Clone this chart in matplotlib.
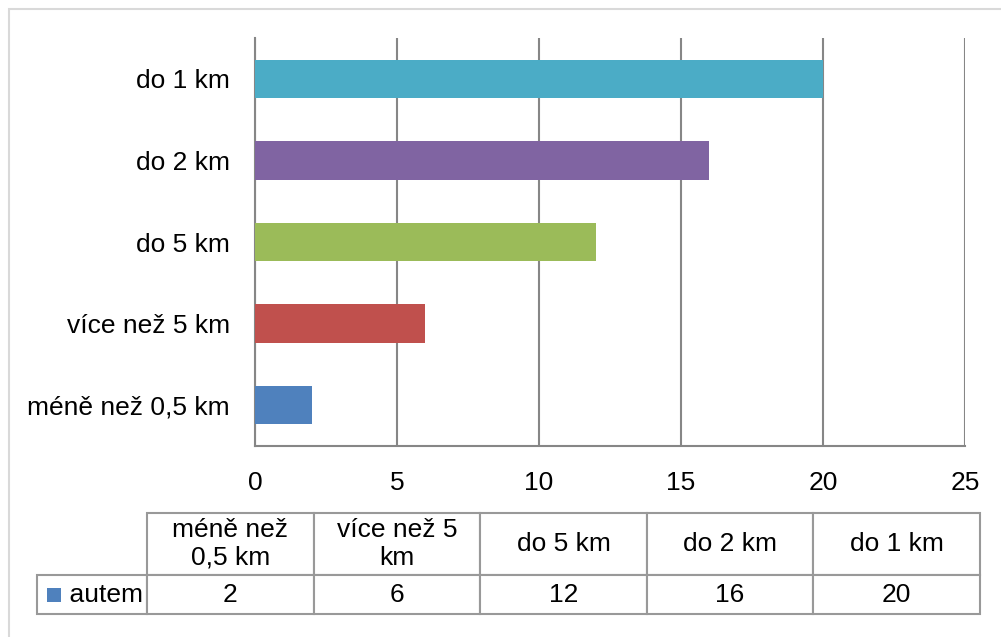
import matplotlib.pyplot as plt
from matplotlib.patches import Rectangle

# data
categories = ['méně než 0,5 km', 'více než 5 km', 'do 5 km', 'do 2 km', 'do 1 km']
table_labels = ['méně než\n0,5 km', 'více než 5\nkm', 'do 5 km', 'do 2 km', 'do 1 km']
values = [2, 6, 12, 16, 20]
series_name = 'autem'
bar_colors = ['#4F81BD', '#C0504D', '#9BBB59', '#8064A2', '#4BACC6']
xticks = [0, 5, 10, 15, 20, 25]

plt.rcParams['font.family'] = ['Liberation Sans', 'DejaVu Sans']
fs = 19
grid_c = '#868686'

W, H = 1001, 637
fig = plt.figure(figsize=(W / 100, H / 100), dpi=100)

# outer chart border
fig.patches.append(Rectangle((9 / W, -0.1), 1.2, 1 - 9 / H + 0.1, transform=fig.transFigure,
                             fill=False, edgecolor='#d9d9d9', linewidth=1.5))

ax = fig.add_axes([255 / W, 1 - 446 / H, (965 - 255) / W, (446 - 38) / H])
ypos = range(len(categories))
ax.barh(ypos, values, height=0.47, color=bar_colors, zorder=3)
ax.set_xlim(0, 25)
ax.set_ylim(-0.5, len(categories) - 0.5)
ax.set_xticks(xticks)
ax.set_yticks(list(ypos))
ax.set_yticklabels(categories)
ax.tick_params(length=0, labelsize=fs)
ax.tick_params(axis='x', pad=18)
ax.tick_params(axis='y', pad=18)
ax.grid(axis='x', color=grid_c, linewidth=1.5, zorder=0)
ax.spines['top'].set_visible(False)
ax.spines['right'].set_visible(False)
for s in ['left', 'bottom']:
    ax.spines[s].set_color(grid_c)
    ax.spines[s].set_linewidth(1.5)

# data table below; first column holds the series name
x0, x1 = (37 - 255) / 710, (980 - 255) / 710
y0, y1 = -(614 - 446) / 408, -(513 - 446) / 408
tbl = ax.table(cellText=[['    ' + series_name] + [str(v) for v in values]],
               colLabels=[''] + table_labels, cellLoc='center',
               bbox=[x0, y0, x1 - x0, y1 - y0])
tbl.auto_set_font_size(False)
for (r, c), cell in tbl.get_celld().items():
    cell.set_edgecolor('#999999')
    cell.set_linewidth(1.5)
    cell.get_text().set_fontsize(fs)
    cell.set_height(62 if r == 0 else 39)
    cell.set_width(110 if c == 0 else 166.6)
    cell.PAD = 0.03
tbl[0, 0].set_visible(False)
tbl[1, 0].get_text().set_horizontalalignment('left')
tbl[1, 0]._loc = 'left'

# legend key square in the series-name cell
fig.patches.append(Rectangle((47 / W, 1 - 602 / H), 14 / W, 14 / H, transform=fig.transFigure,
                             facecolor=bar_colors[0], edgecolor='none'))

fig.savefig('out.png', dpi=100)
